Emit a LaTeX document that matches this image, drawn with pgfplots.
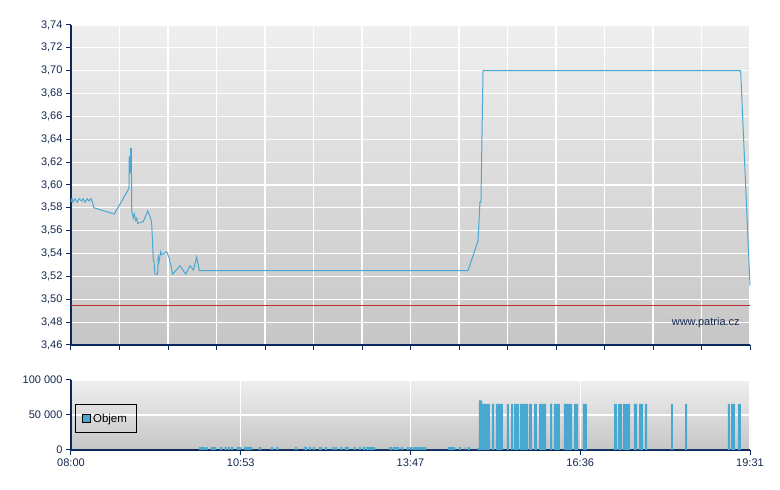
\documentclass[border=0pt]{standalone}
\usepackage{pgfplots}
\pgfplotsset{compat=1.18}
\usepackage{pgfplotstable}
\usepackage{fontspec}
\setmainfont{Liberation Sans}
\definecolor{navy}{HTML}{0B2A5B}
\definecolor{txtnavy}{HTML}{14284F}
\definecolor{lineblue}{HTML}{4AA8D2}
\definecolor{barblue}{HTML}{48A8D0}
\definecolor{refred}{HTML}{C03030}
\definecolor{bgtop}{HTML}{EFEFEF}
\definecolor{bgbot}{HTML}{C6C6C6}

\pgfplotstableread{
x y
0.0 3.585
1.0 3.588
2.0 3.585
4.1 3.588
6.4 3.585
8.1 3.588
10.9 3.586
12.2 3.588
14.2 3.585
16.6 3.588
18.3 3.586
20.4 3.588
21.4 3.586
23.4 3.580
44.1 3.5746
59.0 3.597
59.3 3.625
60.0 3.610
60.8 3.632
61.4 3.632
61.8 3.578
63.4 3.571
64.4 3.5746
65.8 3.569
66.9 3.571
67.9 3.5665
70.2 3.567
73.6 3.568
78.1 3.5773
81.1 3.571
82.1 3.5665
83.8 3.5344
84.5 3.533
85.5 3.522
88.2 3.522
88.8 3.537
89.6 3.533
91.3 3.5416
92.3 3.539
97.4 3.5416
100.0 3.536
101.8 3.529
103.5 3.522
110.9 3.5294
116.7 3.522
121.1 3.5294
124.5 3.5256
127.9 3.537
130.6 3.525
404.0 3.525
414.2 3.551
416.2 3.585
417.2 3.585
419.3 3.700
681.5 3.700
691.0 3.512
}\pricedata

\pgfplotstableread{
x y
130.3 4000
136.4 0
137.4 4000
139.4 0
142.5 4000
147.6 0
151.6 4000
153.7 0
156.7 4000
158.8 0
159.8 4000
161.8 0
162.8 4000
164.9 0
168.9 4000
173.0 0
176.1 4000
184.2 0
191.3 4000
193.4 0
203.5 4000
205.6 0
208.6 4000
210.7 0
228.0 4000
230.0 0
237.1 4000
240.2 0
242.2 4000
244.2 0
246.3 4000
248.3 0
252.4 4000
255.4 0
258.5 4000
260.5 0
265.6 4000
267.7 0
268.7 4000
270.7 0
273.8 4000
275.8 0
278.8 4000
282.9 0
288.0 4000
290.0 0
293.1 4000
295.1 0
297.2 4000
299.2 0
300.2 4000
309.4 0
323.6 4000
326.7 0
327.7 4000
333.8 0
335.8 4000
337.9 0
341.9 4000
344.0 0
345.0 4000
347.0 0
348.0 4000
356.2 0
357.2 4000
361.3 0
383.7 4000
390.8 0
394.9 4000
396.9 0
401.0 4000
402.0 0
404.0 4000
406.1 0
413.2 3000
415.2 71000
418.3 66000
426.4 0
428.4 66000
430.5 0
432.5 66000
439.6 0
443.7 66000
445.7 0
447.8 66000
449.8 0
450.8 66000
455.9 0
456.9 66000
465.1 0
466.1 66000
469.1 0
471.2 66000
474.2 0
476.3 66000
483.4 0
487.5 66000
489.5 0
491.5 66000
497.6 0
501.7 66000
509.9 0
511.9 66000
516.0 0
521.0 66000
525.1 0
552.6 66000
555.6 0
556.7 66000
560.7 0
561.7 66000
568.9 0
572.9 66000
576.0 0
578.1 66000
582.1 0
584.1 66000
586.2 0
610.6 66000
612.6 0
624.9 66000
626.9 0
668.6 66000
670.6 0
671.7 66000
675.7 0
678.8 66000
681.8 0
}\voldata

\pgfplotsset{
  chartbase/.style={
    scale only axis,
    width=679pt,
    xmin=0, xmax=691,
    axis x line*=bottom,
    axis y line*=left,
    axis line style={-, draw=navy, line width=1.2pt},
    tick align=outside,
    major tick length=5pt,
    tick style={draw=navy, line width=1pt},
    grid=major,
    major grid style={draw=white, line width=1.2pt},
    axis background/.style={shade, top color=bgtop, bottom color=bgbot},
    ticklabel style={font=\fontsize{11}{13}\selectfont, text=txtnavy},
    /pgf/number format/assume math mode=true,
    scaled ticks=false,
    clip=false,
  },
}

\begin{document}
\begin{tikzpicture}
\useasboundingbox (0,0) rectangle (780pt,490pt);

\begin{axis}[chartbase,
  at={(71pt,145pt)}, anchor=south west,
  height=320pt,
  ymin=3.46, ymax=3.74,
  ytick={3.46,3.48,3.50,3.52,3.54,3.56,3.58,3.60,3.62,3.64,3.66,3.68,3.70,3.72,3.74},
  yticklabel style={/pgf/number format/.cd, fixed, fixed zerofill, precision=2, use comma},
  xtick={0,49.357,98.714,148.071,197.429,246.786,296.143,345.5,394.857,444.214,493.571,542.929,592.286,641.643,691},
  xticklabels={},
]
\addplot[draw=refred, line width=0.9pt, forget plot] coordinates {(0,3.495) (691,3.495)};
\addplot[draw=lineblue, line width=1pt, forget plot] table[x=x, y=y] {\pricedata};
\node[anchor=east, font=\fontsize{11}{13}\selectfont, text=txtnavy] at (rel axis cs:0.99,0.069) {www.patria.cz};
\end{axis}

\begin{axis}[chartbase,
  at={(71pt,40pt)}, anchor=south west,
  height=70pt,
  ymin=0, ymax=100000,
  ytick={0,50000,100000},
  yticklabels={0,50 000,100 000},
  xtick={0,172.75,345.5,518.25,691},
  xticklabels={08:00,10:53,13:47,16:36,19:31},
  legend style={at={(0.006,0.243)}, anchor=south west, draw=black, line width=0.8pt, fill=none,
    font=\fontsize{11.5}{13}\selectfont, inner xsep=7pt, inner ysep=7pt},
  legend cell align=left,
]
\addplot[ybar interval, fill=barblue, draw=none,
  legend image code/.code={\draw[fill=barblue, draw=black, line width=0.6pt] (0pt,-4pt) rectangle (8pt,4pt);}]
  table[x=x, y=y] {\voldata};
\addlegendentry{Objem}
\end{axis}
\end{tikzpicture}
\end{document}
